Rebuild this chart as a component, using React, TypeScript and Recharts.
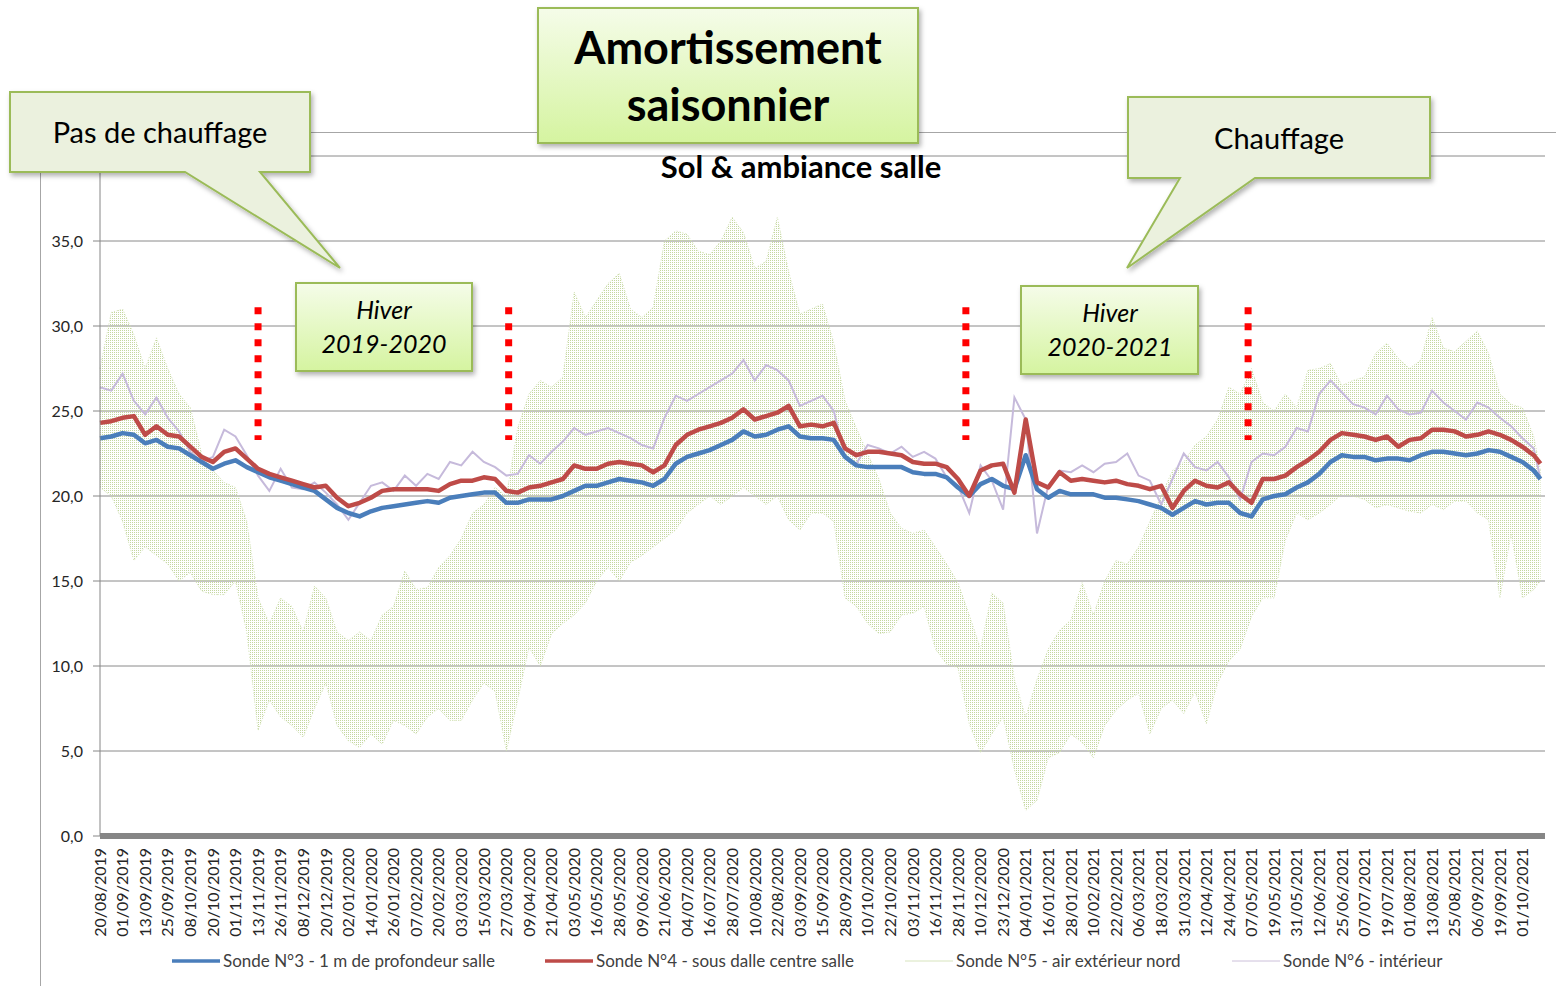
import React from 'react';
import { ComposedChart, Line, Area, XAxis, YAxis, CartesianGrid, ReferenceLine } from 'recharts';

const dateLabels = [
  '20/08/2019','01/09/2019','13/09/2019','25/09/2019','08/10/2019','20/10/2019','01/11/2019','13/11/2019',
  '26/11/2019','08/12/2019','20/12/2019','02/01/2020','14/01/2020','26/01/2020','07/02/2020','20/02/2020',
  '03/03/2020','15/03/2020','27/03/2020','09/04/2020','21/04/2020','03/05/2020','16/05/2020','28/05/2020',
  '09/06/2020','21/06/2020','04/07/2020','16/07/2020','28/07/2020','10/08/2020','22/08/2020','03/09/2020',
  '15/09/2020','28/09/2020','10/10/2020','22/10/2020','03/11/2020','16/11/2020','28/11/2020','10/12/2020',
  '23/12/2020','04/01/2021','16/01/2021','28/01/2021','10/02/2021','22/02/2021','06/03/2021','18/03/2021',
  '31/03/2021','12/04/2021','24/04/2021','07/05/2021','19/05/2021','31/05/2021','12/06/2021','25/06/2021',
  '07/07/2021','19/07/2021','01/08/2021','13/08/2021','25/08/2021','06/09/2021','19/09/2021','01/10/2021'
];
const yTicks = [0, 5, 10, 15, 20, 25, 30, 35, 40];
const hiddenYLabel = 40; // covered by the "Pas de chauffage" callout in the original

// Sonde N°3 - 1 m de profondeur salle (sampled every half label step)
const sonde3 = [
  23.4,23.5,23.7,23.6,23.1,23.3,22.9,22.8,22.4,22.0,21.6,21.9,22.1,21.7,21.4,21.1,
  20.9,20.7,20.5,20.3,19.8,19.3,19.0,18.8,19.1,19.3,19.4,19.5,19.6,19.7,19.6,19.9,
  20.0,20.1,20.2,20.2,19.6,19.6,19.8,19.8,19.8,20.0,20.3,20.6,20.6,20.8,21.0,20.9,
  20.8,20.6,21.0,21.9,22.3,22.5,22.7,23.0,23.3,23.8,23.5,23.6,23.9,24.1,23.5,23.4,
  23.4,23.3,22.3,21.8,21.7,21.7,21.7,21.7,21.4,21.3,21.3,21.1,20.5,20.0,20.7,21.0,
  20.6,20.4,22.4,20.4,19.9,20.3,20.1,20.1,20.1,19.9,19.9,19.8,19.7,19.5,19.3,18.9,
  19.3,19.7,19.5,19.6,19.6,19.0,18.8,19.8,20.0,20.1,20.5,20.8,21.3,22.0,22.4,22.3,
  22.3,22.1,22.2,22.2,22.1,22.4,22.6,22.6,22.5,22.4,22.5,22.7,22.6,22.3,22.0,21.5,
  21.0
];
// Sonde N°4 - sous dalle centre salle
const sonde4 = [
  24.3,24.4,24.6,24.7,23.6,24.1,23.6,23.5,22.9,22.3,22.0,22.6,22.8,22.2,21.6,21.3,
  21.1,20.9,20.7,20.5,20.6,19.9,19.4,19.6,19.9,20.3,20.4,20.4,20.4,20.4,20.3,20.7,
  20.9,20.9,21.1,21.0,20.3,20.2,20.5,20.6,20.8,21.0,21.8,21.6,21.6,21.9,22.0,21.9,
  21.8,21.4,21.8,23.0,23.6,23.9,24.1,24.3,24.6,25.1,24.5,24.7,24.9,25.3,24.1,24.2,
  24.1,24.3,22.8,22.4,22.6,22.6,22.5,22.4,22.0,21.9,21.9,21.7,21.0,20.0,21.5,21.8,
  21.9,20.2,24.5,20.8,20.5,21.4,20.9,21.0,20.9,20.8,20.9,20.7,20.6,20.4,20.6,19.3,
  20.3,20.9,20.6,20.5,20.8,20.1,19.6,21.0,21.0,21.2,21.7,22.1,22.6,23.3,23.7,23.6,
  23.5,23.3,23.5,22.9,23.3,23.4,23.9,23.9,23.8,23.5,23.6,23.8,23.6,23.3,22.9,22.4,
  21.9
];
// Sonde N°5 - air extérieur nord (daily min / max envelope)
const sonde5Min = [
  20.5,20.0,18.5,16.2,17.0,16.5,16.0,15.0,15.5,14.4,14.2,14.2,15.0,12.0,6.2,8.0,
  7.0,6.5,5.8,7.5,9.0,6.5,5.6,5.2,6.0,5.4,6.8,6.5,6.0,7.0,7.5,6.8,
  6.8,8.0,9.0,8.5,5.0,8.0,11.1,10.0,11.9,12.5,13.0,13.7,15.0,15.8,15.0,16.1,
  16.5,17.0,17.5,18.0,19.0,19.5,20.0,19.5,20.0,20.5,20.0,19.5,20.0,18.6,18.0,19.0,
  19.0,18.5,14.0,13.5,12.5,11.9,12.0,13.0,13.1,13.5,11.0,10.1,9.9,6.6,4.9,6.0,
  7.0,3.9,1.5,2.1,4.6,4.9,6.0,5.5,4.6,6.5,7.4,8.0,8.4,6.0,7.5,8.0,
  7.2,8.5,6.6,9.0,10.3,11.0,12.9,14.0,14.0,17.4,19.0,18.6,19.0,19.5,20.1,20.0,
  19.8,19.3,19.5,19.3,19.1,19.0,19.5,19.2,19.7,19.7,19.0,18.6,14.0,17.8,14.0,14.5,
  15.0
];
const sonde5Max = [
  27.5,30.8,31.0,29.5,27.5,29.3,27.5,26.0,25.2,22.5,21.5,20.8,20.5,18.5,14.0,12.5,
  14.0,13.5,12.0,14.7,14.0,12.0,11.5,12.0,11.5,13.0,13.5,15.6,14.5,14.6,15.8,16.5,
  17.5,19.0,19.5,20.5,20.0,24.0,26.0,26.8,26.4,27.0,32.0,30.5,31.5,32.5,33.1,31.0,
  30.5,31.1,35.0,35.6,35.4,34.4,34.2,35.0,36.4,35.5,33.4,33.8,36.4,33.2,30.7,31.0,
  31.3,29.0,25.6,24.0,22.5,21.0,19.0,18.1,17.8,18.0,17.0,16.0,14.9,13.0,11.0,14.3,
  13.7,9.2,7.0,9.2,11.0,12.1,12.7,14.9,13.0,15.0,16.2,16.0,17.0,18.5,20.0,21.5,
  22.0,23.0,23.5,24.5,26.4,26.0,27.5,25.5,25.0,26.0,25.2,27.4,27.5,27.8,26.5,26.8,
  27.0,28.4,29.0,28.1,27.5,28.0,30.5,28.7,28.5,29.1,29.7,28.4,26.0,25.4,25.2,23.5,
  21.5
];
// Sonde N°6 - intérieur
const sonde6 = [
  26.4,26.2,27.2,25.6,24.8,25.8,24.6,23.8,22.6,22.0,22.3,23.9,23.5,22.4,21.2,20.3,
  21.6,20.5,20.4,20.8,20.2,19.5,18.6,19.6,20.6,20.8,20.3,21.2,20.6,21.3,21.0,22.0,
  21.8,22.6,22.0,21.7,21.2,21.3,22.4,21.9,22.6,23.2,24.0,23.6,23.8,24.0,23.7,23.4,
  23.0,22.8,24.6,25.9,25.6,26.0,26.4,26.8,27.2,28.0,26.8,27.7,27.4,26.8,25.3,25.6,
  25.9,25.0,22.3,21.9,23.0,22.8,22.5,22.9,22.3,22.6,22.2,21.1,20.6,19.0,21.8,20.9,
  19.2,25.8,24.5,17.8,20.6,21.5,21.4,21.8,21.4,21.9,22.0,22.5,21.2,20.9,19.5,21.0,
  22.5,21.7,21.5,22.0,21.1,19.8,22.0,22.5,22.4,22.9,24.0,23.8,26.0,26.8,26.1,25.4,
  25.2,24.8,25.9,25.1,24.8,24.9,26.2,25.5,25.0,24.5,25.5,25.2,24.6,24.1,23.4,22.8,
  21.0
];
const lastPosition = 63.8;
const winterMarks = [7.0, 18.1, 38.35, 50.85];
const markTop = 31.1;
const markBottom = 23.3;

const data = sonde3.map((v, k) => ({
  x: k < 128 ? k / 2 : lastPosition,
  s3: v,
  s4: sonde4[k],
  s5: [sonde5Min[k], sonde5Max[k]],
  s6: sonde6[k],
}));

const FONT = 'Lato, "Open Sans", sans-serif';

const DateTick = (props: any) => {
  const { x, payload } = props;
  const y = 848;
  return (
    <text x={x} y={y} transform={`rotate(-90, ${x}, ${y})`} textAnchor="end" dy="0.36em"
      fontSize={16} fill="#262626" fontFamily={FONT}>
      {dateLabels[payload.value]}
    </text>
  );
};

const legendItems = [
  { label: 'Sonde N°3 - 1 m de profondeur salle', color: '#4a7ebb', width: 3.5, x: 172 },
  { label: 'Sonde N°4 - sous dalle centre salle', color: '#be4b48', width: 3.5, x: 545 },
  { label: 'Sonde N°5 - air extérieur nord', color: '#d7e4bd', width: 1, x: 905 },
  { label: 'Sonde N°6 - intérieur', color: '#ccc0da', width: 1, x: 1232 },
];

const Callout = ({ d, fill }: { d: string; fill: string }) => (
  <path d={d} fill={fill} stroke="#9bbb59" strokeWidth={2} filter="url(#shadow)" />
);

export default function App() {
  return (
    <div style={{ position: 'absolute', left: 0, top: 0, width: 1556, height: 986, background: '#fff', fontFamily: FONT }}>
      <svg width={0} height={0} style={{ position: 'absolute' }}>
        <defs>
          <pattern id="n5hatch" width={2} height={2} patternUnits="userSpaceOnUse">
            <rect x={0} y={0} width={1} height={1} fill="#c4d7a0" />
          </pattern>
        </defs>
      </svg>
      {/* outer frame lines */}
      <div style={{ position: 'absolute', left: 40, top: 132, width: 1, height: 854, background: '#a6a6a6' }} />
      <div style={{ position: 'absolute', left: 40, top: 132, width: 1516, height: 1, background: '#a6a6a6' }} />
      <div style={{ position: 'absolute', left: 0, top: 0 }}>
        <ComposedChart width={1556} height={986} data={data} margin={{ top: 156, right: 11, left: 0, bottom: 30 }}>
          <CartesianGrid horizontal vertical={false} stroke="#8a8a8a" strokeWidth={1} />
          <XAxis dataKey="x" type="number" domain={[0, lastPosition]} ticks={dateLabels.map((_, i) => i)}
            interval={0} tick={<DateTick />} tickLine={false} height={120}
            axisLine={{ stroke: '#868686', strokeWidth: 6 }} allowDecimals={false} />
          <YAxis type="number" domain={[0, 40]} ticks={yTicks} width={100} interval={0}
            tickFormatter={(v: number) => (v === hiddenYLabel ? '' : v.toFixed(1).replace('.', ','))}
            tick={{ fontSize: 16, fill: '#262626', fontFamily: FONT }}
            tickSize={7} tickMargin={10} tickLine={{ stroke: '#868686' }} axisLine={{ stroke: '#868686' }} />
          <Area dataKey="s5" type="linear" fill="url(#n5hatch)" fillOpacity={1} stroke="#d3e2b5"
            strokeWidth={1} strokeDasharray="1 2" isAnimationActive={false} dot={false} activeDot={false} />
          <Line dataKey="s6" type="linear" stroke="#c6badb" strokeWidth={2} dot={false} activeDot={false} isAnimationActive={false} />
          <Line dataKey="s3" type="linear" stroke="#4a7ebb" strokeWidth={4.5} dot={false} activeDot={false} isAnimationActive={false} strokeLinejoin="round" />
          <Line dataKey="s4" type="linear" stroke="#be4b48" strokeWidth={4.5} dot={false} activeDot={false} isAnimationActive={false} strokeLinejoin="round" />
          {winterMarks.map((m) => (
            <ReferenceLine key={m} segment={[{ x: m, y: markTop }, { x: m, y: markBottom }]}
              stroke="#ff0000" strokeWidth={7} strokeDasharray="7 9" ifOverflow="visible" />
          ))}
        </ComposedChart>
      </div>
      <svg width={1556} height={986} style={{ position: 'absolute', left: 0, top: 0, pointerEvents: 'none' }}>
        <defs>
          <filter id="shadow" x="-10%" y="-10%" width="130%" height="140%">
            <feDropShadow dx={2} dy={3} stdDeviation={2.5} floodColor="#000" floodOpacity={0.3} />
          </filter>
          <linearGradient id="lime" x1="0" y1="0" x2="0" y2="1">
            <stop offset="0%" stopColor="#f5fce9" />
            <stop offset="100%" stopColor="#d5f4a0" />
          </linearGradient>
        </defs>
        {/* chart title */}
        <text x={801} y={178} textAnchor="middle" fontSize={31} fontWeight={700} fill="#000" fontFamily={FONT}>
          Sol &amp; ambiance salle
        </text>
        {/* callouts */}
        <Callout d="M10,92 H310 V172 H260 L340,268 L185,172 H10 Z" fill="#ebf1de" />
        <text x={160} y={143} textAnchor="middle" fontSize={29} fill="#000" fontFamily={FONT}>Pas de chauffage</text>

        <Callout d="M538,8 H918 V143 H538 Z" fill="url(#lime)" />
        <text x={728} y={64} textAnchor="middle" fontSize={45} fontWeight={700} fill="#000" fontFamily={FONT}>Amortissement</text>
        <text x={728} y={121} textAnchor="middle" fontSize={45} fontWeight={700} fill="#000" fontFamily={FONT}>saisonnier</text>

        <Callout d="M1128,97 H1430 V178 H1255 L1127,268 L1180,178 H1128 Z" fill="#ebf1de" />
        <text x={1279} y={149} textAnchor="middle" fontSize={29} fill="#000" fontFamily={FONT}>Chauffage</text>

        <Callout d="M296,283 H472 V371 H296 Z" fill="url(#lime)" />
        <text x={384} y={319} textAnchor="middle" fontSize={25} fontStyle="italic" fill="#000" fontFamily={FONT}>Hiver</text>
        <text x={384} y={353} textAnchor="middle" fontSize={25} fontStyle="italic" fill="#000" fontFamily={FONT}>2019-2020</text>

        <Callout d="M1021,286 H1198 V374 H1021 Z" fill="url(#lime)" />
        <text x={1110} y={322} textAnchor="middle" fontSize={25} fontStyle="italic" fill="#000" fontFamily={FONT}>Hiver</text>
        <text x={1110} y={356} textAnchor="middle" fontSize={25} fontStyle="italic" fill="#000" fontFamily={FONT}>2020-2021</text>

        {/* legend */}
        {legendItems.map((it) => (
          <g key={it.label}>
            <line x1={it.x} x2={it.x + 48} y1={961} y2={961} stroke={it.color} strokeWidth={it.width} />
            <text x={it.x + 51} y={961} dy="0.35em" fontSize={17} fill="#404040" fontFamily={FONT}>{it.label}</text>
          </g>
        ))}
      </svg>
    </div>
  );
}
